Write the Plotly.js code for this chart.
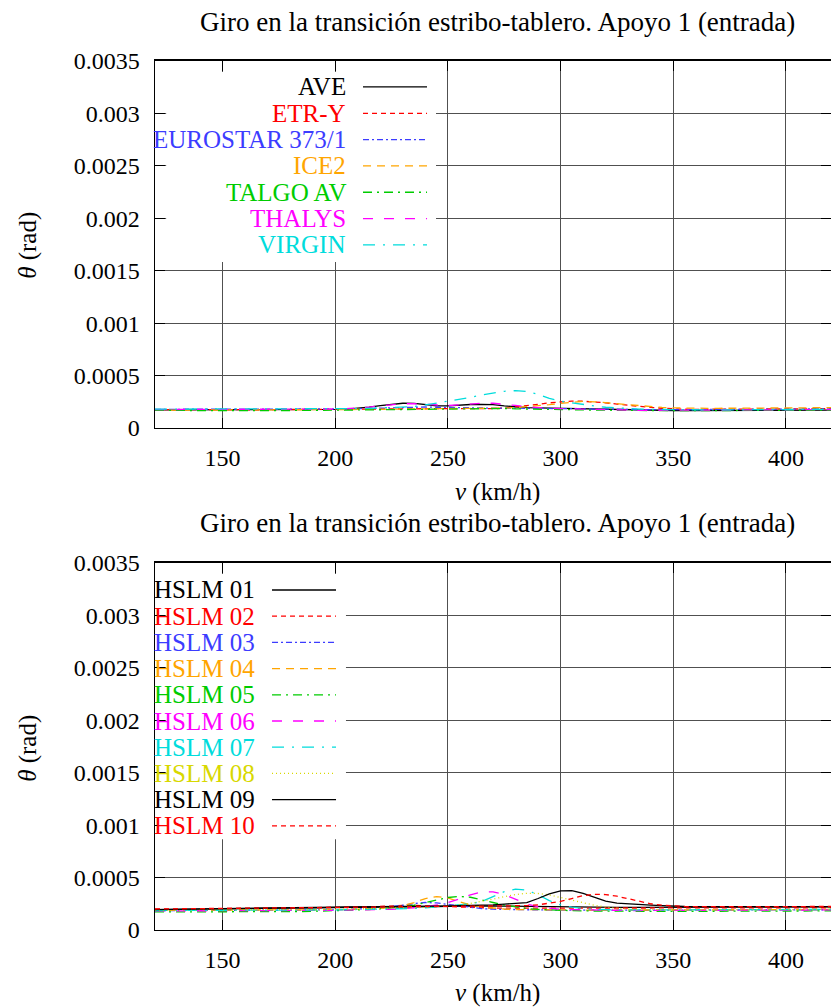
<!DOCTYPE html>
<html>
<head>
<meta charset="utf-8">
<script src="https://cdn.plot.ly/plotly-3.0.1.min.js"></script>
<style>
  html, body { margin: 0; padding: 0; background: #ffffff; }
  #chart { width: 831px; height: 1008px; }
</style>
</head>
<body>
<div id="chart"></div>
<script>
// Train speed (km/h)
const speed = [120,125,130,135,140,145,150,155,160,165,170,175,180,185,190,195,200,
  205,210,215,220,225,230,235,240,245,250,255,260,265,270,275,280,285,290,295,300,
  305,310,315,320,325,330,335,340,345,350,355,360,365,370,375,380,385,390,395,400,405,410,415,420];

// Axis ticks
const xTickVals = [150, 200, 250, 300, 350, 400];
const yTickVals = [0, 0.0005, 0.001, 0.0015, 0.002, 0.0025, 0.003, 0.0035];
const yTickText = ['0', '0.0005', '0.001', '0.0015', '0.002', '0.0025', '0.003', '0.0035'];

// Rotation at the abutment-deck transition, support 1 (rad) — real trains
const aveTheta = [1.72e-4,1.72e-4,1.71e-4,1.71e-4,1.70e-4,1.70e-4,1.70e-4,1.70e-4,1.71e-4,1.71e-4,1.72e-4,1.72e-4,1.73e-4,1.74e-4,1.75e-4,1.76e-4,1.77e-4,
  1.80e-4,1.88e-4,2.00e-4,2.14e-4,2.28e-4,2.36e-4,2.34e-4,2.22e-4,2.12e-4,2.10e-4,2.18e-4,2.24e-4,2.26e-4,2.22e-4,2.10e-4,2.00e-4,1.95e-4,1.92e-4,1.90e-4,1.88e-4,
  1.85e-4,1.82e-4,1.78e-4,1.74e-4,1.71e-4,1.69e-4,1.68e-4,1.67e-4,1.67e-4,1.67e-4,1.67e-4,1.67e-4,1.67e-4,1.67e-4,1.68e-4,1.68e-4,1.68e-4,1.68e-4,1.69e-4,1.69e-4,1.69e-4,1.69e-4,1.69e-4,1.70e-4];
const etrTheta = [1.76e-4,1.75e-4,1.75e-4,1.74e-4,1.74e-4,1.73e-4,1.73e-4,1.73e-4,1.74e-4,1.74e-4,1.75e-4,1.76e-4,1.76e-4,1.77e-4,1.78e-4,1.79e-4,1.80e-4,
  1.81e-4,1.82e-4,1.83e-4,1.84e-4,1.85e-4,1.86e-4,1.87e-4,1.87e-4,1.86e-4,1.85e-4,1.84e-4,1.83e-4,1.83e-4,1.84e-4,1.90e-4,2.00e-4,2.14e-4,2.26e-4,2.40e-4,2.52e-4,
  2.57e-4,2.55e-4,2.49e-4,2.40e-4,2.28e-4,2.16e-4,2.05e-4,1.96e-4,1.88e-4,1.82e-4,1.79e-4,1.78e-4,1.78e-4,1.78e-4,1.79e-4,1.80e-4,1.80e-4,1.81e-4,1.82e-4,1.82e-4,1.83e-4,1.83e-4,1.84e-4,1.84e-4];
const eurostarTheta = [1.78e-4,1.78e-4,1.77e-4,1.77e-4,1.76e-4,1.76e-4,1.76e-4,1.76e-4,1.76e-4,1.77e-4,1.77e-4,1.78e-4,1.78e-4,1.79e-4,1.79e-4,1.80e-4,1.81e-4,
  1.82e-4,1.84e-4,1.87e-4,1.91e-4,1.95e-4,1.98e-4,2.00e-4,2.00e-4,1.98e-4,1.95e-4,1.92e-4,1.90e-4,1.89e-4,1.89e-4,1.90e-4,1.90e-4,1.89e-4,1.88e-4,1.87e-4,1.86e-4,
  1.84e-4,1.82e-4,1.80e-4,1.78e-4,1.76e-4,1.75e-4,1.74e-4,1.74e-4,1.74e-4,1.75e-4,1.75e-4,1.76e-4,1.76e-4,1.77e-4,1.77e-4,1.78e-4,1.78e-4,1.79e-4,1.79e-4,1.80e-4,1.80e-4,1.81e-4,1.81e-4,1.82e-4];
const ice2Theta = [1.70e-4,1.70e-4,1.69e-4,1.69e-4,1.69e-4,1.68e-4,1.68e-4,1.68e-4,1.69e-4,1.69e-4,1.70e-4,1.70e-4,1.71e-4,1.72e-4,1.73e-4,1.74e-4,1.75e-4,
  1.76e-4,1.77e-4,1.78e-4,1.79e-4,1.80e-4,1.81e-4,1.82e-4,1.82e-4,1.81e-4,1.80e-4,1.80e-4,1.81e-4,1.83e-4,1.86e-4,1.90e-4,1.95e-4,2.02e-4,2.12e-4,2.22e-4,2.34e-4,
  2.46e-4,2.54e-4,2.50e-4,2.40e-4,2.30e-4,2.20e-4,2.10e-4,2.02e-4,1.96e-4,1.92e-4,1.89e-4,1.88e-4,1.88e-4,1.88e-4,1.88e-4,1.89e-4,1.89e-4,1.90e-4,1.90e-4,1.91e-4,1.92e-4,1.92e-4,1.93e-4,1.94e-4];
const talgoTheta = [1.68e-4,1.67e-4,1.66e-4,1.65e-4,1.65e-4,1.64e-4,1.64e-4,1.64e-4,1.64e-4,1.65e-4,1.65e-4,1.66e-4,1.66e-4,1.67e-4,1.68e-4,1.69e-4,1.70e-4,
  1.71e-4,1.72e-4,1.73e-4,1.74e-4,1.75e-4,1.76e-4,1.77e-4,1.78e-4,1.80e-4,1.82e-4,1.84e-4,1.86e-4,1.88e-4,1.88e-4,1.86e-4,1.83e-4,1.80e-4,1.78e-4,1.76e-4,1.75e-4,
  1.74e-4,1.72e-4,1.70e-4,1.68e-4,1.67e-4,1.66e-4,1.65e-4,1.65e-4,1.65e-4,1.65e-4,1.66e-4,1.66e-4,1.66e-4,1.67e-4,1.67e-4,1.67e-4,1.68e-4,1.68e-4,1.68e-4,1.68e-4,1.69e-4,1.69e-4,1.69e-4,1.70e-4];
const thalysTheta = [1.76e-4,1.76e-4,1.75e-4,1.75e-4,1.74e-4,1.74e-4,1.74e-4,1.74e-4,1.75e-4,1.75e-4,1.76e-4,1.76e-4,1.77e-4,1.78e-4,1.79e-4,1.80e-4,1.81e-4,
  1.84e-4,1.90e-4,2.00e-4,2.12e-4,2.24e-4,2.31e-4,2.32e-4,2.26e-4,2.18e-4,2.14e-4,2.20e-4,2.30e-4,2.37e-4,2.36e-4,2.28e-4,2.15e-4,2.03e-4,1.94e-4,1.88e-4,1.85e-4,
  1.82e-4,1.79e-4,1.76e-4,1.73e-4,1.71e-4,1.70e-4,1.69e-4,1.69e-4,1.69e-4,1.70e-4,1.70e-4,1.71e-4,1.71e-4,1.72e-4,1.72e-4,1.73e-4,1.73e-4,1.73e-4,1.74e-4,1.74e-4,1.75e-4,1.75e-4,1.75e-4,1.76e-4];
const virginTheta = [1.80e-4,1.80e-4,1.79e-4,1.79e-4,1.78e-4,1.78e-4,1.78e-4,1.78e-4,1.78e-4,1.79e-4,1.79e-4,1.80e-4,1.80e-4,1.81e-4,1.82e-4,1.83e-4,1.84e-4,
  1.84e-4,1.85e-4,1.87e-4,1.90e-4,1.94e-4,1.99e-4,2.05e-4,2.20e-4,2.38e-4,2.55e-4,2.70e-4,2.92e-4,3.16e-4,3.35e-4,3.50e-4,3.56e-4,3.48e-4,3.22e-4,2.82e-4,2.55e-4,
  2.38e-4,2.24e-4,2.10e-4,1.98e-4,1.90e-4,1.84e-4,1.80e-4,1.77e-4,1.75e-4,1.74e-4,1.73e-4,1.73e-4,1.73e-4,1.73e-4,1.74e-4,1.74e-4,1.75e-4,1.75e-4,1.76e-4,1.76e-4,1.77e-4,1.77e-4,1.78e-4,1.78e-4];

// Rotation at the abutment-deck transition, support 1 (rad) — HSLM-A universal trains
const hslm01Theta = [1.95e-4,1.96e-4,1.97e-4,1.97e-4,1.98e-4,1.99e-4,2.00e-4,2.01e-4,2.02e-4,2.03e-4,2.04e-4,2.05e-4,2.06e-4,2.07e-4,2.08e-4,2.09e-4,2.10e-4,
  2.11e-4,2.12e-4,2.13e-4,2.14e-4,2.16e-4,2.18e-4,2.20e-4,2.22e-4,2.24e-4,2.26e-4,2.28e-4,2.30e-4,2.32e-4,2.30e-4,2.28e-4,2.26e-4,2.24e-4,2.22e-4,2.20e-4,2.19e-4,
  2.18e-4,2.17e-4,2.16e-4,2.16e-4,2.15e-4,2.15e-4,2.15e-4,2.15e-4,2.16e-4,2.16e-4,2.16e-4,2.17e-4,2.17e-4,2.17e-4,2.18e-4,2.18e-4,2.18e-4,2.19e-4,2.19e-4,2.19e-4,2.20e-4,2.20e-4,2.20e-4,2.20e-4];
const hslm02Theta = [1.98e-4,1.99e-4,1.99e-4,2.00e-4,2.00e-4,2.01e-4,2.01e-4,2.02e-4,2.02e-4,2.03e-4,2.03e-4,2.04e-4,2.05e-4,2.06e-4,2.07e-4,2.08e-4,2.09e-4,
  2.11e-4,2.14e-4,2.18e-4,2.24e-4,2.30e-4,2.34e-4,2.34e-4,2.30e-4,2.24e-4,2.18e-4,2.14e-4,2.11e-4,2.10e-4,2.09e-4,2.08e-4,2.08e-4,2.08e-4,2.07e-4,2.07e-4,2.06e-4,
  2.06e-4,2.05e-4,2.05e-4,2.05e-4,2.05e-4,2.05e-4,2.06e-4,2.06e-4,2.06e-4,2.07e-4,2.07e-4,2.08e-4,2.08e-4,2.08e-4,2.09e-4,2.09e-4,2.10e-4,2.10e-4,2.10e-4,2.11e-4,2.11e-4,2.12e-4,2.12e-4,2.12e-4];
const hslm03Theta = [1.85e-4,1.85e-4,1.84e-4,1.84e-4,1.84e-4,1.84e-4,1.84e-4,1.85e-4,1.85e-4,1.86e-4,1.86e-4,1.87e-4,1.88e-4,1.89e-4,1.90e-4,1.91e-4,1.92e-4,
  1.94e-4,1.98e-4,2.04e-4,2.12e-4,2.22e-4,2.36e-4,2.52e-4,2.62e-4,2.58e-4,2.44e-4,2.28e-4,2.14e-4,2.04e-4,1.98e-4,1.95e-4,1.93e-4,1.92e-4,1.91e-4,1.90e-4,1.90e-4,
  1.89e-4,1.89e-4,1.88e-4,1.88e-4,1.88e-4,1.88e-4,1.88e-4,1.88e-4,1.88e-4,1.89e-4,1.89e-4,1.89e-4,1.90e-4,1.90e-4,1.90e-4,1.91e-4,1.91e-4,1.91e-4,1.92e-4,1.92e-4,1.92e-4,1.93e-4,1.93e-4,1.93e-4];
const hslm04Theta = [1.88e-4,1.88e-4,1.87e-4,1.87e-4,1.87e-4,1.86e-4,1.86e-4,1.86e-4,1.87e-4,1.87e-4,1.88e-4,1.88e-4,1.89e-4,1.90e-4,1.91e-4,1.92e-4,1.93e-4,
  1.94e-4,1.96e-4,2.00e-4,2.06e-4,2.16e-4,2.30e-4,2.62e-4,3.00e-4,3.18e-4,3.05e-4,2.70e-4,2.40e-4,2.20e-4,2.08e-4,2.00e-4,1.95e-4,1.93e-4,1.92e-4,1.91e-4,1.90e-4,
  1.91e-4,1.90e-4,1.89e-4,1.89e-4,1.88e-4,1.88e-4,1.88e-4,1.88e-4,1.89e-4,1.89e-4,1.90e-4,1.90e-4,1.90e-4,1.91e-4,1.91e-4,1.92e-4,1.92e-4,1.93e-4,1.93e-4,1.94e-4,1.94e-4,1.95e-4,1.95e-4,1.96e-4];
const hslm05Theta = [1.72e-4,1.72e-4,1.71e-4,1.71e-4,1.70e-4,1.70e-4,1.70e-4,1.70e-4,1.71e-4,1.71e-4,1.72e-4,1.73e-4,1.74e-4,1.76e-4,1.78e-4,1.80e-4,1.82e-4,
  1.86e-4,1.90e-4,1.95e-4,2.02e-4,2.10e-4,2.20e-4,2.36e-4,2.58e-4,2.86e-4,3.10e-4,3.20e-4,3.12e-4,2.90e-4,2.62e-4,2.38e-4,2.18e-4,2.05e-4,1.96e-4,1.90e-4,1.86e-4,
  1.84e-4,1.82e-4,1.80e-4,1.79e-4,1.78e-4,1.77e-4,1.77e-4,1.77e-4,1.77e-4,1.77e-4,1.78e-4,1.78e-4,1.78e-4,1.79e-4,1.79e-4,1.79e-4,1.80e-4,1.80e-4,1.80e-4,1.81e-4,1.81e-4,1.81e-4,1.82e-4,1.82e-4];
const hslm06Theta = [1.82e-4,1.82e-4,1.81e-4,1.81e-4,1.80e-4,1.80e-4,1.80e-4,1.80e-4,1.81e-4,1.81e-4,1.82e-4,1.83e-4,1.84e-4,1.85e-4,1.86e-4,1.87e-4,1.88e-4,
  1.89e-4,1.90e-4,1.92e-4,1.94e-4,1.97e-4,2.02e-4,2.10e-4,2.22e-4,2.40e-4,2.62e-4,2.95e-4,3.35e-4,3.62e-4,3.64e-4,3.38e-4,2.90e-4,2.48e-4,2.20e-4,2.06e-4,1.98e-4,
  1.94e-4,1.91e-4,1.89e-4,1.88e-4,1.87e-4,1.86e-4,1.86e-4,1.86e-4,1.86e-4,1.87e-4,1.87e-4,1.87e-4,1.88e-4,1.88e-4,1.88e-4,1.89e-4,1.89e-4,1.89e-4,1.90e-4,1.90e-4,1.90e-4,1.91e-4,1.91e-4,1.91e-4];
const hslm07Theta = [1.86e-4,1.86e-4,1.85e-4,1.85e-4,1.84e-4,1.84e-4,1.84e-4,1.84e-4,1.85e-4,1.85e-4,1.86e-4,1.87e-4,1.88e-4,1.89e-4,1.90e-4,1.91e-4,1.92e-4,
  1.93e-4,1.94e-4,1.95e-4,1.97e-4,1.99e-4,2.02e-4,2.06e-4,2.12e-4,2.20e-4,2.30e-4,2.40e-4,2.50e-4,2.72e-4,3.20e-4,3.65e-4,3.90e-4,3.80e-4,3.35e-4,2.80e-4,2.40e-4,
  2.18e-4,2.05e-4,1.98e-4,1.94e-4,1.92e-4,1.91e-4,1.91e-4,1.91e-4,1.92e-4,1.92e-4,1.92e-4,1.93e-4,1.93e-4,1.93e-4,1.94e-4,1.94e-4,1.94e-4,1.95e-4,1.95e-4,1.95e-4,1.96e-4,1.96e-4,1.96e-4,1.96e-4];
const hslm08Theta = [1.90e-4,1.90e-4,1.89e-4,1.89e-4,1.88e-4,1.88e-4,1.88e-4,1.88e-4,1.89e-4,1.89e-4,1.90e-4,1.91e-4,1.92e-4,1.93e-4,1.94e-4,1.95e-4,1.96e-4,
  1.98e-4,1.99e-4,2.00e-4,2.02e-4,2.04e-4,2.07e-4,2.11e-4,2.16e-4,2.22e-4,2.30e-4,2.40e-4,2.54e-4,2.72e-4,2.94e-4,3.18e-4,3.38e-4,3.50e-4,3.48e-4,3.34e-4,3.10e-4,
  2.84e-4,2.58e-4,2.36e-4,2.18e-4,2.06e-4,1.98e-4,1.94e-4,1.92e-4,1.91e-4,1.91e-4,1.92e-4,1.92e-4,1.92e-4,1.93e-4,1.93e-4,1.93e-4,1.94e-4,1.94e-4,1.94e-4,1.95e-4,1.95e-4,1.95e-4,1.96e-4,1.96e-4];
const hslm09Theta = [1.95e-4,1.96e-4,1.97e-4,1.98e-4,1.99e-4,2.00e-4,2.01e-4,2.02e-4,2.03e-4,2.04e-4,2.05e-4,2.07e-4,2.09e-4,2.11e-4,2.13e-4,2.15e-4,2.17e-4,
  2.19e-4,2.21e-4,2.22e-4,2.23e-4,2.24e-4,2.25e-4,2.26e-4,2.27e-4,2.28e-4,2.29e-4,2.30e-4,2.31e-4,2.33e-4,2.40e-4,2.47e-4,2.50e-4,2.60e-4,3.00e-4,3.45e-4,3.72e-4,
  3.75e-4,3.50e-4,3.10e-4,2.76e-4,2.56e-4,2.48e-4,2.44e-4,2.38e-4,2.32e-4,2.26e-4,2.24e-4,2.23e-4,2.23e-4,2.23e-4,2.23e-4,2.23e-4,2.23e-4,2.23e-4,2.23e-4,2.23e-4,2.23e-4,2.23e-4,2.23e-4,2.23e-4];
const hslm10Theta = [2.00e-4,2.01e-4,2.01e-4,2.02e-4,2.02e-4,2.03e-4,2.03e-4,2.04e-4,2.04e-4,2.05e-4,2.05e-4,2.06e-4,2.07e-4,2.08e-4,2.09e-4,2.10e-4,2.11e-4,
  2.12e-4,2.13e-4,2.14e-4,2.15e-4,2.16e-4,2.17e-4,2.18e-4,2.19e-4,2.20e-4,2.21e-4,2.22e-4,2.23e-4,2.24e-4,2.25e-4,2.26e-4,2.28e-4,2.32e-4,2.40e-4,2.55e-4,2.72e-4,
  3.00e-4,3.28e-4,3.40e-4,3.38e-4,3.22e-4,2.96e-4,2.70e-4,2.50e-4,2.36e-4,2.28e-4,2.24e-4,2.22e-4,2.22e-4,2.22e-4,2.22e-4,2.23e-4,2.23e-4,2.23e-4,2.23e-4,2.24e-4,2.24e-4,2.24e-4,2.24e-4,2.24e-4];

// Line styles (gnuplot-like palette and dash patterns)
const BLACK = '#000000', RED = '#ff0000', BLUE = '#3c3cff', ORANGE = '#ffa500',
      GREEN = '#00cc00', MAGENTA = '#ff00ff', CYAN = '#00dcdc', YELLOW = '#d8d800';
const DASH = {
  solid: 'solid',
  short: '5px,4px',
  dashDot: '6px,3px,2px,3px',
  medium: '8px,6px',
  dashDotWide: '9px,5px,2px,5px',
  long: '10px,11px',
  longDot: '12px,8px,2px,8px',
  dotted: '1px,3px'
};

const trainSeries = [
  { name: 'AVE',            y: aveTheta,      color: BLACK,   dash: DASH.solid },
  { name: 'ETR-Y',          y: etrTheta,      color: RED,     dash: DASH.short },
  { name: 'EUROSTAR 373/1', y: eurostarTheta, color: BLUE,    dash: DASH.dashDot },
  { name: 'ICE2',           y: ice2Theta,     color: ORANGE,  dash: DASH.medium },
  { name: 'TALGO AV',       y: talgoTheta,    color: GREEN,   dash: DASH.dashDotWide },
  { name: 'THALYS',         y: thalysTheta,   color: MAGENTA, dash: DASH.long },
  { name: 'VIRGIN',         y: virginTheta,   color: CYAN,    dash: DASH.longDot }
];
const hslmSeries = [
  { name: 'HSLM 01', y: hslm01Theta, color: BLACK,   dash: DASH.solid },
  { name: 'HSLM 02', y: hslm02Theta, color: RED,     dash: DASH.short },
  { name: 'HSLM 03', y: hslm03Theta, color: BLUE,    dash: DASH.dashDot },
  { name: 'HSLM 04', y: hslm04Theta, color: ORANGE,  dash: DASH.medium },
  { name: 'HSLM 05', y: hslm05Theta, color: GREEN,   dash: DASH.dashDotWide },
  { name: 'HSLM 06', y: hslm06Theta, color: MAGENTA, dash: DASH.long },
  { name: 'HSLM 07', y: hslm07Theta, color: CYAN,    dash: DASH.longDot },
  { name: 'HSLM 08', y: hslm08Theta, color: YELLOW,  dash: DASH.dotted },
  { name: 'HSLM 09', y: hslm09Theta, color: BLACK,   dash: DASH.solid },
  { name: 'HSLM 10', y: hslm10Theta, color: RED,     dash: DASH.short }
];

const FONT = '"Liberation Serif", serif';
const TITLE = 'Giro en la transición estribo-tablero. Apoyo 1 (entrada)';
const LINE_W = 1.3;

const traces = [];
function addTraces(series, xa, ya) {
  series.forEach(s => traces.push({
    type: 'scatter', mode: 'lines', x: speed, y: s.y, name: s.name,
    xaxis: xa, yaxis: ya, showlegend: false, hoverinfo: 'x+y+name',
    line: { color: s.color, width: LINE_W, dash: s.dash }
  }));
}
addTraces(trainSeries, 'x', 'y');
addTraces(hslmSeries, 'x2', 'y2');

const shapes = [];
const annotations = [];

// Key drawn inside each panel: white box hiding the grid (but not the inner ticks),
// then a label and a line sample per series
function addKey(series, xa, ya, box, key) {
  const xref = xa + ' domain', yref = ya + ' domain';
  shapes.push({ type: 'rect', xref, yref, x0: box.x0, x1: box.x1, y0: box.y0, y1: box.y1,
    fillcolor: '#ffffff', line: { width: 0 }, layer: 'above' });
  series.forEach((s, i) => {
    const yy = key.top - i * key.step;
    annotations.push({ xref, yref, x: key.textRight, y: yy, xanchor: 'right', yanchor: 'middle',
      text: s.name, showarrow: false, font: { family: FONT, size: 25, color: s.color } });
    shapes.push({ type: 'line', xref, yref, x0: key.line0, x1: key.line1, y0: yy, y1: yy,
      line: { color: s.color, width: LINE_W, dash: s.dash }, layer: 'above' });
  });
}
addKey(trainSeries, 'x', 'y', { x0: 0.0165, x1: 0.4157, y0: 0.452, y1: 0.970 },
  { top: 0.9292, step: 0.0717, textRight: 0.2855, line0: 0.3077, line1: 0.4024 });
addKey(hslmSeries, 'x2', 'y2', { x0: 0.0165, x1: 0.2825, y0: 0.247, y1: 0.970 },
  { top: 0.9264, step: 0.0714, textRight: 0.1509, line0: 0.1731, line1: 0.2678 });

// Panel titles and axis titles
[[0.978, 0.5119, 0.757], [0.4812, 0.0149, 0.258]].forEach(([ty, xy, yy]) => {
  annotations.push({ xref: 'paper', yref: 'paper', x: 0.506, y: ty, xanchor: 'center', yanchor: 'middle',
    text: TITLE, showarrow: false, font: { family: FONT, size: 27, color: '#000' } });
  annotations.push({ xref: 'paper', yref: 'paper', x: 0.506, y: xy, xanchor: 'center', yanchor: 'middle',
    text: '<i>v</i> (km/h)', showarrow: false, font: { family: FONT, size: 25, color: '#000' } });
  annotations.push({ xref: 'paper', yref: 'paper', x: -0.188, y: yy, xanchor: 'center', yanchor: 'middle',
    text: '<i>θ</i> (rad)', textangle: -90, showarrow: false, font: { family: FONT, size: 25, color: '#000' } });
});

function axisCommon() {
  return {
    tickmode: 'array', ticks: 'inside', ticklen: 10, tickwidth: 1, tickcolor: '#000', mirror: 'ticks',
    showline: true, linecolor: '#000', linewidth: 1.5,
    showgrid: true, gridcolor: '#505050', gridwidth: 1, zeroline: false,
    tickfont: { family: FONT, size: 24, color: '#000' }, fixedrange: true
  };
}
function xAxis(anchor) {
  return Object.assign(axisCommon(), {
    anchor, domain: [0, 1], range: [120, 420],
    tickvals: xTickVals, ticktext: xTickVals.map(String), ticklabelstandoff: 8
  });
}
function yAxis(anchor, domain) {
  return Object.assign(axisCommon(), {
    anchor, domain, range: [0, 0.0035],
    tickvals: yTickVals, ticktext: yTickText, ticklabelstandoff: 9
  });
}

const layout = {
  width: 831, height: 1008,
  margin: { l: 155, r: 0, t: 0, b: 0 },
  font: { family: FONT, size: 24, color: '#000' },
  paper_bgcolor: '#ffffff', plot_bgcolor: '#ffffff',
  showlegend: false,
  xaxis: xAxis('y'),
  yaxis: yAxis('x', [0.5754, 0.9395]),
  xaxis2: xAxis('y2'),
  yaxis2: yAxis('x2', [0.0774, 0.4415]),
  shapes, annotations
};

Plotly.newPlot('chart', traces, layout, { displayModeBar: false, staticPlot: true });
</script>
</body>
</html>
